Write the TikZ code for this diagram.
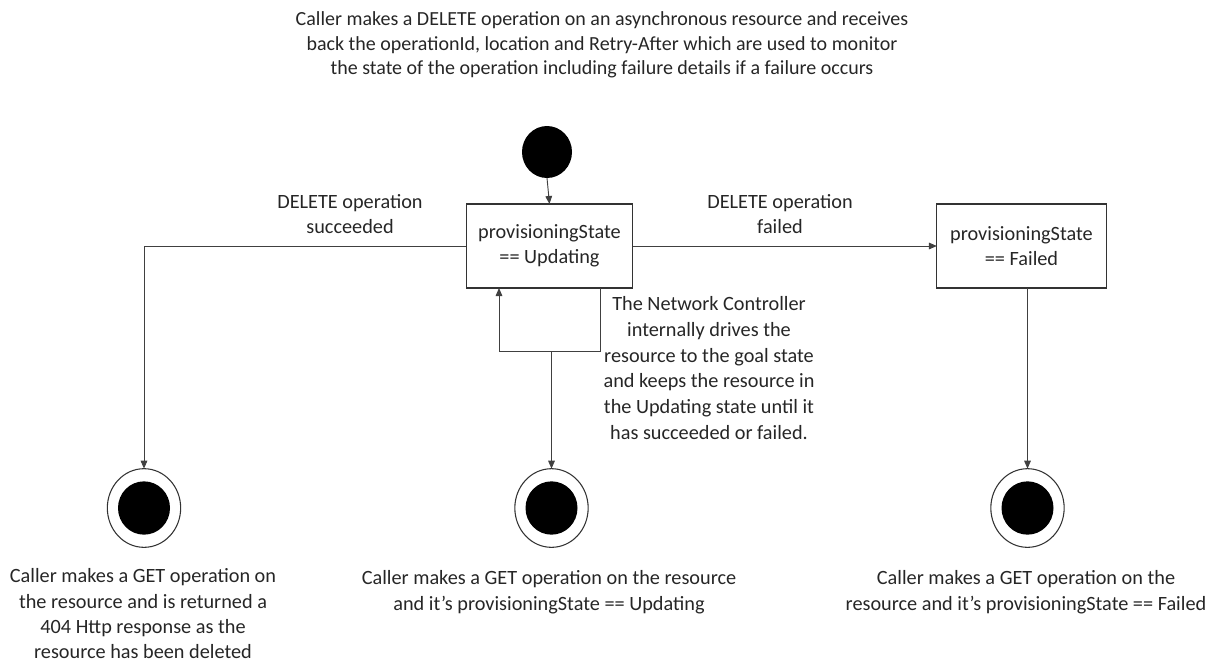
\documentclass[tikz,border=0pt]{standalone}
\usepackage{fontspec}
\setmainfont{Carlito}
\usetikzlibrary{arrows.meta,shapes.geometric}
\begin{document}
\begin{tikzpicture}[x=0.75pt,y=-0.75pt,
  every node/.style={inner sep=0pt,outer sep=0pt},
  txt/.style={align=center,text=black!85,font=\fontsize{15.2}{19.3}\selectfont},
  statebox/.style={draw=black!80,line width=0.9pt,minimum width=125pt,minimum height=63pt,align=center,text=black!85,font=\fontsize{15.2}{19}\selectfont},
  initdot/.style={ellipse,fill=black,minimum width=37.5pt,minimum height=39pt},
  finring/.style={ellipse,draw=black!80,line width=0.8pt,minimum width=55pt,minimum height=59pt},
  findot/.style={ellipse,fill=black,minimum width=39pt,minimum height=40pt},
  conn/.style={draw=black!75,line width=0.7pt},
  arr/.style={conn,-{Triangle[length=6pt,width=5pt]}}]
\useasboundingbox (0,0) rectangle (1214,662);
% top text
\node[txt,font=\fontsize{15}{18.4}\selectfont] (toptxt) at (602,45) {Caller makes a DELETE operation on an asynchronous resource and receives\\back the operationId, location and Retry-After which are used to monitor\\the state of the operation including failure details if a failure occurs};
% initial
\node[initdot] (init) at (547,152) {};
% states
\node[statebox] (upd) at (549.5,246) {provisioningState\\== Updating};
\node[statebox,minimum width=127pt] (fail) at (1021.5,246) {provisioningState\\== Failed};
% finals
\node[finring] (fin1) at (144,508) {};
\node[findot] (fin1d) at (144,508) {};
\node[finring] (fin2) at (551.5,508) {};
\node[findot] (fin2d) at (551.5,508) {};
\node[finring] (fin3) at (1027.5,508) {};
\node[findot] (fin3d) at (1027.5,508) {};
% loop coordinates
\coordinate (lr) at (600,351);
\coordinate (ll) at (499,351);
\coordinate (lm) at (551.5,351);
% connectors
\draw[arr] (init.south) -- (upd.north);
\draw[arr] (upd.west) -| (fin1.north);
\draw[arr] (upd.east) -- (fail.west);
\draw[arr] (fin3.north |- fail.south) -- (fin3.north);
\draw[arr] (upd.south -| lr) -- (lr) -- (ll) -- (upd.south -| ll);
\draw[arr] (lm) -- (fin2.north);
% labels
\node[txt] (lsucc) at (350,214) {DELETE operation\\succeeded};
\node[txt] (lfail) at (780,214) {DELETE operation\\failed};
\node[txt] (lnet) at (709,368) {The Network Controller\\internally drives the\\resource to the goal state\\and keeps the resource in\\the Updating state until it\\has succeeded or failed.};
\node[txt,font=\fontsize{15.2}{19}\selectfont] (b1) at (143,614) {Caller makes a GET operation on\\the resource and is returned a\\404 Http response as the\\resource has been deleted};
\node[txt] (b2) at (549,592) {Caller makes a GET operation on the resource\\and it’s provisioningState == Updating};
\node[txt] (b3) at (1026,592) {Caller makes a GET operation on the\\resource and it’s provisioningState == Failed};
\end{tikzpicture}
\end{document}
